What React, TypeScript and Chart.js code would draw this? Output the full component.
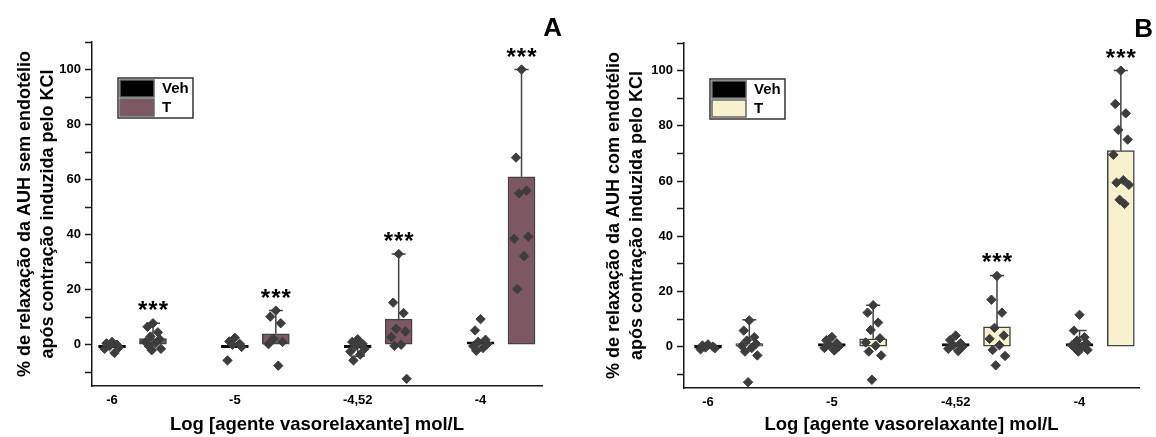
import React, { useEffect, useRef } from 'react';
import { Chart, registerables } from 'chart.js';

Chart.register(...registerables);

const FONT = "'Liberation Sans', Arial, Helvetica, sans-serif";

// ---------- shared data ----------
const DOSE_LABELS = ['-6', '-5', '-4,52', '-4'];
const Y_TICK_VALUES = [-10, 0, 10, 20, 30, 40, 50, 60, 70, 80, 90, 100, 110];
const Y_LABELLED = [0, 20, 40, 60, 80, 100];
const X_TITLE = 'Log [agente vasorelaxante] mol/L';
const SERIES_NAMES = ['Veh', 'T'];
const T_SHIFT = 1 / 3; // T group sits one third of a category to the right of Veh
const JITTER = [0.0, -0.045, 0.04, -0.02, 0.055, -0.06, 0.02, -0.035, 0.065, -0.01, 0.03, -0.05];

// ---------- panel A (sem endotélio) ----------
const A_Y_TITLE = ['% de relaxação da AUH sem endotélio', 'após contração induzida pelo KCl'];
const A_VEH_MEAN = [-0.3, -0.4, -0.7, 0.8];
const A_T_MEAN = [2.2, 4.0, 9.3, 61.0];
const A_VEH_HIGH = [null, null, null, null];
const A_VEH_LOW = [null, null, -4.2, null];
const A_T_HIGH = [7.8, 12.4, 33.0, 100.0];
const A_T_LOW = [null, null, null, null];
const A_VEH_POINTS = [
  [1.0, 0.5, 0.0, -0.5, -1.0, -1.5, -3.0],
  [2.5, 1.2, 0.3, 0.0, -0.8, -5.7],
  [2.0, 1.0, 0.3, -0.6, -1.5, -2.5, -3.6, -5.7],
  [9.3, 5.2, 1.8, 1.0, 0.3, -0.5, -1.2, -2.2],
];
const A_T_POINTS = [
  [7.8, 6.5, 4.5, 3.0, 2.0, 1.0, 0.5, -0.5, -1.5, -2.0],
  [12.4, 10.2, 7.8, 2.2, 1.0, 0.2, -7.6],
  [33.0, 15.3, 11.5, 5.8, 4.8, 2.8, 0.0, -0.4, -12.4],
  [100.0, 68.0, 56.0, 55.0, 39.3, 38.5, 32.2, 20.2],
];
const A_T_STARS = ['***', '***', '***', '***'];

// ---------- panel B (com endotélio) ----------
const B_Y_TITLE = ['% de relaxação da AUH com endotélio', 'após contração induzida pelo KCl'];
const B_VEH_MEAN = [0.0, 0.3, 0.3, 1.0];
const B_T_MEAN = [0.6, 2.8, 7.2, 71.0];
const B_VEH_HIGH = [null, null, null, 5.8];
const B_VEH_LOW = [null, null, null, null];
const B_T_HIGH = [9.7, 15.0, 25.8, 100.0];
const B_T_LOW = [null, null, null, null];
const B_VEH_POINTS = [
  [0.8, 0.4, 0.0, -0.3, -0.6, -1.0],
  [3.5, 2.3, 1.2, 0.5, 0.0, -0.5, -1.4],
  [4.0, 2.4, 1.2, 0.5, 0.0, -0.8, -1.6],
  [11.5, 5.8, 3.4, 2.2, 1.2, 0.5, 0.0, -0.6, -1.2, -1.8],
];
const B_T_POINTS = [
  [9.5, 5.8, 3.4, 2.2, 1.0, 0.3, -0.5, -1.8, -3.2, -12.9],
  [15.0, 12.3, 8.7, 6.0, 3.0, 1.5, 0.3, -1.8, -3.2, -12.0],
  [25.6, 17.0, 12.3, 6.8, 4.0, 2.8, 0.5, -1.2, -3.4, -6.8],
  [100.0, 87.9, 84.5, 78.5, 75.0, 69.5, 60.3, 59.4, 58.6, 53.2, 51.7],
];
const B_T_STARS = ['', '', '***', '***'];

const VEH_COLOR = '#000000';
const A_T_COLOR = '#7d5862';
const B_T_COLOR = '#f7f1cd';
const EDGE = '#444444';
const POINT_COLOR = '#3d3d3d';

type Panel = {
  yTitle: string[];
  vehMean: number[]; tMean: number[];
  vehHigh: (number | null)[]; vehLow: (number | null)[];
  tHigh: (number | null)[]; tLow: (number | null)[];
  vehPoints: number[][]; tPoints: number[][];
  stars: string[];
  tColor: string;
  letter: string;
  layout: {
    yWidth: number; xHeight: number; padTop: number; padRight: number;
    titlePad: number; xMin: number; xMax: number; letterX: number; letterY: number;
  };
};

const PANELS: Panel[] = [
  {
    yTitle: A_Y_TITLE, vehMean: A_VEH_MEAN, tMean: A_T_MEAN,
    vehHigh: A_VEH_HIGH, vehLow: A_VEH_LOW, tHigh: A_T_HIGH, tLow: A_T_LOW,
    vehPoints: A_VEH_POINTS, tPoints: A_T_POINTS, stars: A_T_STARS,
    tColor: A_T_COLOR, letter: 'A',
    layout: { yWidth: 92, xHeight: 51, padTop: 42, padRight: 36, titlePad: 13, xMin: -0.163, xMax: 3.5, letterX: 562, letterY: 36 },
  },
  {
    yTitle: B_Y_TITLE, vehMean: B_VEH_MEAN, tMean: B_T_MEAN,
    vehHigh: B_VEH_HIGH, vehLow: B_VEH_LOW, tHigh: B_T_HIGH, tLow: B_T_LOW,
    vehPoints: B_VEH_POINTS, tPoints: B_T_POINTS, stars: B_T_STARS,
    tColor: B_T_COLOR, letter: 'B',
    layout: { yWidth: 106, xHeight: 49, padTop: 43, padRight: 17, titlePad: 24, xMin: -0.194, xMax: 3.48, letterX: 575, letterY: 37 },
  },
];

function scatterData(groups: number[][], shift: number) {
  const out: { x: number; y: number }[] = [];
  groups.forEach((vals, i) => {
    vals.forEach((v, k) => out.push({ x: i + shift + JITTER[k % JITTER.length], y: v }));
  });
  return out;
}

function makePlugin(p: Panel) {
  return {
    id: 'extras' + p.letter,
    beforeDatasetsDraw(chart: any) {
      const { ctx } = chart;
      const xs = chart.scales.x;
      const ys = chart.scales.y;
      ctx.save();
      ctx.strokeStyle = EDGE;
      ctx.lineWidth = 1.5;
      const whisk = (xv: number, from: number, to: number | null) => {
        if (to === null || to === undefined) return;
        const px = xs.getPixelForValue(xv);
        const y0 = ys.getPixelForValue(from);
        const y1 = ys.getPixelForValue(to);
        ctx.beginPath();
        ctx.moveTo(px, y0);
        ctx.lineTo(px, y1);
        ctx.moveTo(px - 7, y1);
        ctx.lineTo(px + 7, y1);
        ctx.stroke();
      };
      DOSE_LABELS.forEach((_, i) => {
        whisk(i, p.vehMean[i], p.vehHigh[i]);
        whisk(i, p.vehMean[i], p.vehLow[i]);
        whisk(i + T_SHIFT, p.tMean[i], p.tHigh[i]);
        whisk(i + T_SHIFT, p.tMean[i], p.tLow[i]);
      });
      ctx.restore();
    },
    afterDraw(chart: any) {
      const { ctx, chartArea } = chart;
      const xs = chart.scales.x;
      const ys = chart.scales.y;
      ctx.save();
      // significance stars
      ctx.fillStyle = '#000';
      ctx.font = `bold 24px ${FONT}`;
      ctx.textAlign = 'center';
      ctx.textBaseline = 'alphabetic';
      try { (ctx as any).letterSpacing = '1px'; } catch (e) { /* ignore */ }
      DOSE_LABELS.forEach((_, i) => {
        const s = p.stars[i];
        if (!s) return;
        const top = p.tHigh[i] ?? p.tMean[i];
        ctx.fillText(s, xs.getPixelForValue(i + T_SHIFT) + 0.5, ys.getPixelForValue(top) - 5);
      });
      try { (ctx as any).letterSpacing = '0px'; } catch (e) { /* ignore */ }
      // legend
      const lx = chartArea.left + 26;
      const ly = chartArea.top + 36;
      ctx.fillStyle = '#fff';
      ctx.fillRect(lx, ly, 75, 40);
      ctx.strokeStyle = '#333';
      ctx.lineWidth = 1.5;
      ctx.strokeRect(lx, ly, 75, 40);
      const sw = [VEH_COLOR, p.tColor];
      sw.forEach((c, k) => {
        const sy = ly + 2 + k * 19;
        ctx.fillStyle = c;
        ctx.fillRect(lx + 2, sy, 34, 17);
        ctx.strokeStyle = '#666';
        ctx.lineWidth = 1.5;
        ctx.strokeRect(lx + 2, sy, 34, 17);
        ctx.fillStyle = '#000';
        ctx.font = `bold 15px ${FONT}`;
        ctx.textAlign = 'left';
        ctx.textBaseline = 'middle';
        ctx.fillText(SERIES_NAMES[k], lx + 44, sy + 9);
      });
      // panel letter
      ctx.fillStyle = '#000';
      ctx.font = `bold 26px ${FONT}`;
      ctx.textAlign = 'right';
      ctx.textBaseline = 'alphabetic';
      ctx.fillText(p.letter, p.layout.letterX, p.layout.letterY);
      ctx.restore();
    },
  };
}

function makeConfig(p: Panel): any {
  const L = p.layout;
  return {
    type: 'bar',
    data: {
      datasets: [
        {
          type: 'scatter',
          label: 'Veh points',
          data: scatterData(p.vehPoints, 0),
          pointStyle: 'rectRot',
          pointRadius: 4.7,
          backgroundColor: POINT_COLOR,
          borderColor: POINT_COLOR,
          borderWidth: 1,
          order: 1,
        },
        {
          type: 'scatter',
          label: 'T points',
          data: scatterData(p.tPoints, T_SHIFT),
          pointStyle: 'rectRot',
          pointRadius: 4.7,
          backgroundColor: POINT_COLOR,
          borderColor: POINT_COLOR,
          borderWidth: 1,
          order: 1,
        },
        {
          type: 'bar',
          label: SERIES_NAMES[0],
          data: p.vehMean.map((v, i) => ({ x: i, y: v })),
          backgroundColor: VEH_COLOR,
          borderColor: '#111',
          borderWidth: 1,
          borderSkipped: false,
          barThickness: 27,
          minBarLength: 3,
          grouped: false,
          order: 2,
        },
        {
          type: 'bar',
          label: SERIES_NAMES[1],
          data: p.tMean.map((v, i) => ({ x: i + T_SHIFT, y: v })),
          backgroundColor: p.tColor,
          borderColor: EDGE,
          borderWidth: 1.5,
          borderSkipped: false,
          barThickness: 27,
          minBarLength: 3,
          grouped: false,
          order: 2,
        },
      ],
    },
    options: {
      responsive: false,
      animation: false,
      devicePixelRatio: 1,
      layout: { padding: { left: 0, top: L.padTop, right: L.padRight, bottom: 0 } },
      plugins: { legend: { display: false }, tooltip: { enabled: false } },
      scales: {
        x: {
          type: 'linear',
          position: 'bottom',
          min: L.xMin,
          max: L.xMax,
          offset: false,
          grid: { display: false, drawTicks: false },
          border: { display: true, color: '#1a1a1a', width: 1.5 },
          afterBuildTicks: (s: any) => {
            s.ticks = DOSE_LABELS.map((_, i) => ({ value: i }));
          },
          ticks: {
            callback: (v: number) => DOSE_LABELS[Math.round(v)] ?? '',
            font: { family: FONT, size: 13, weight: 'bold' },
            color: '#000',
            padding: 7,
            autoSkip: false,
            maxRotation: 0,
          },
          title: {
            display: true,
            text: X_TITLE,
            font: { family: FONT, size: 18.5, weight: 'bold' },
            color: '#000',
            padding: { top: 0, bottom: 1 },
          },
          afterFit: (s: any) => { s.height = L.xHeight; },
        },
        y: {
          type: 'linear',
          min: -15,
          max: 110,
          afterBuildTicks: (s: any) => {
            s.ticks = Y_TICK_VALUES.map((v) => ({ value: v }));
          },
          grid: { display: true, drawOnChartArea: false, drawTicks: true, tickLength: 7, tickColor: '#1a1a1a', tickWidth: 1.5 },
          border: { display: true, color: '#1a1a1a', width: 1.5 },
          ticks: {
            callback: (v: number) => (Y_LABELLED.includes(v) ? String(v) : ''),
            font: { family: FONT, size: 13, weight: 'bold' },
            color: '#000',
            padding: 4,
          },
          title: {
            display: true,
            text: p.yTitle,
            font: { family: FONT, size: 18, weight: 'bold', lineHeight: 1.3 },
            color: '#000',
            padding: { top: L.titlePad, bottom: 0 },
          },
          afterFit: (s: any) => { s.width = L.yWidth; },
        },
      },
    },
    plugins: [makePlugin(p)],
  };
}

function PanelChart({ panel }: { panel: Panel }) {
  const ref = useRef<HTMLCanvasElement | null>(null);
  useEffect(() => {
    if (!ref.current) return;
    const chart = new Chart(ref.current, makeConfig(panel));
    return () => chart.destroy();
  }, [panel]);
  return <canvas ref={ref} width={578} height={437} style={{ display: 'block', width: 578, height: 437 }} />;
}

export default function App() {
  return (
    <div style={{ position: 'absolute', left: 0, top: 0, width: 1156, height: 437, display: 'flex', background: '#fff' }}>
      {PANELS.map((p) => (
        <PanelChart key={p.letter} panel={p} />
      ))}
    </div>
  );
}
